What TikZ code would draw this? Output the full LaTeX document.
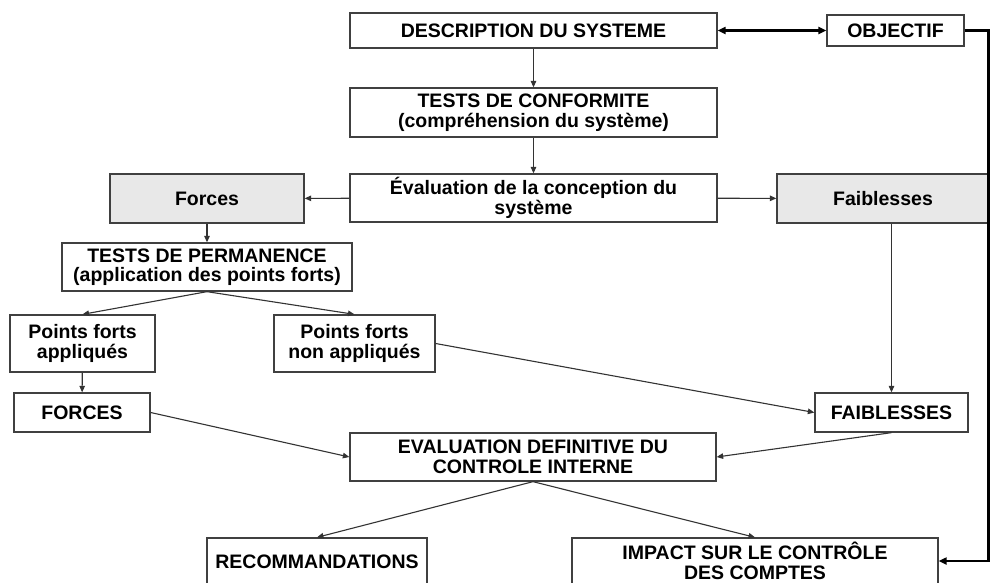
\documentclass[tikz,border=0pt]{standalone}
\usepackage{fontspec}
\setmainfont{Liberation Sans}
\usepackage{tikz}
\usetikzlibrary{arrows.meta, positioning, calc}

\begin{document}
\begin{tikzpicture}[
        x=1pt, y=-1pt,
        >={Triangle[length=6.5pt, width=5.5pt]},
        font=\fontsize{19.5}{19.5}\selectfont\bfseries,
        box/.style={
            rectangle,
            inner sep=2pt,
            align=center,
            draw=black!75,
            line width=1.3pt,
            fill=white
        },
        shaded/.style={
            box,
            fill=gray!18
        },
        arrow/.style={
            ->,
            line width=1.1pt,
            color=black!80
        },
        thickarrow/.style={
            line width=2.6pt,
            color=black
        }
    ]

    \clip (0,0) rectangle (994,582);
    \fill[white] (0,0) rectangle (994,582);

    \node (description) [box, minimum width=367pt, minimum height=35pt] at (533.5,30.5) {DESCRIPTION DU SYSTEME};

    \node (objectif) [box, minimum width=137pt, minimum height=31pt] at (895.5,30.5) {OBJECTIF};

    \node (conformite) [box, minimum width=367pt, minimum height=49pt] at (533.5,112.5) {TESTS DE CONFORMITE\\(compréhension du système)};

    \node (conception) [box, minimum width=367pt, minimum height=48pt] at (533.5,198) {Évaluation de la conception du\\système};

    \node (forces) [shaded, minimum width=194pt, minimum height=49pt] at (207,198.5) {Forces};

    \node (faiblesses) [shaded, minimum width=212pt, minimum height=49pt] at (883,198.5) {Faiblesses};

    \node (permanence) [box, minimum width=290pt, minimum height=48pt] at (207,267) {TESTS DE PERMANENCE\\(application des points forts)};

    \node (appliques) [box, minimum width=145pt, minimum height=57pt] at (82.5,343.5) {Points forts\\appliqués};

    \node (nonappliques) [box, minimum width=161pt, minimum height=57pt] at (354.5,343.5) {Points forts\\non appliqués};

    \node (FORCES) [box, minimum width=136pt, minimum height=39pt] at (82,412.5) {FORCES};

    \node (FAIBLESSES) [box, minimum width=153pt, minimum height=39pt] at (891.5,412.5) {FAIBLESSES};

    \node (definitive) [box, minimum width=366pt, minimum height=48pt] at (533,457) {EVALUATION DEFINITIVE DU\\CONTROLE INTERNE};

    \node (recommandations) [box, minimum width=220pt, minimum height=48pt] at (317,562) {RECOMMANDATIONS};

    \node (impact) [box, minimum width=366pt, minimum height=46pt] at (755,561) {IMPACT SUR LE CONTRÔLE\\DES COMPTES};

    % connecteurs
    \draw [arrow] (description) -- (conformite);
    \draw [arrow] (conformite) -- (conception);
    \draw [arrow] (conception) -- (forces);
    \draw [arrow] (conception) -- (faiblesses);
    \draw [arrow] (forces) -- (permanence);
    \draw [arrow] (permanence.south) -- (appliques.north);
    \draw [arrow] (permanence.south) -- (nonappliques.north);
    \draw [arrow] (appliques) -- (FORCES);
    \draw [arrow] (faiblesses.south -| FAIBLESSES.north) -- (FAIBLESSES.north);
    \draw [arrow] (nonappliques.east) -- (FAIBLESSES.west);
    \draw [arrow] (FORCES.east) -- (definitive.west);
    \draw [arrow] (FAIBLESSES.south) -- (definitive.east);
    \draw [arrow] (definitive.south) -- (recommandations.north);
    \draw [arrow] (definitive.south) -- (impact.north);

    % liaison objectif
    \draw [thickarrow, {Triangle[length=8pt, width=7pt]}-{Triangle[length=8pt, width=7pt]}] (description) -- (objectif);
    \draw [thickarrow, -{Triangle[length=8pt, width=7pt]}] (objectif.east) -- ++(24,0) |- (impact.east);

\end{tikzpicture}
\end{document}
